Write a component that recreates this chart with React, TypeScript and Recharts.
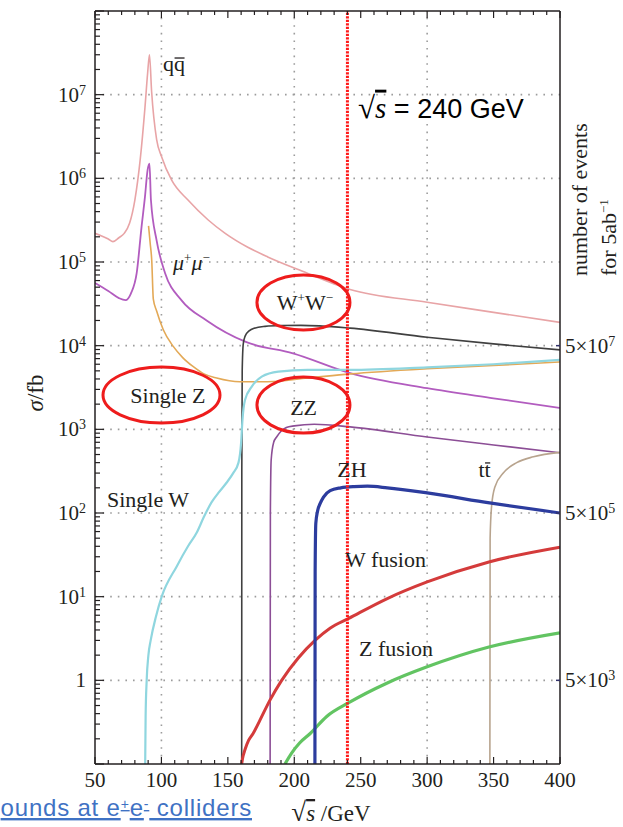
import React from 'react';
import { LineChart, Line, XAxis, YAxis, ReferenceLine, ReferenceDot } from 'recharts';

const SERIF = '"Liberation Serif", "Times New Roman", serif';
const SANS = '"Liberation Sans", Arial, sans-serif';
const INK = '#231f20';

// cross sections as [sqrt(s) in GeV, sigma in fb]
const qqbar = [
  [50, 2.2e5], [55, 2.05e5], [60, 1.88e5], [63.5, 1.75e5], [68, 1.95e5], [72, 2.2e5], [76, 2.9e5],
  [80, 5.5e5], [84, 1.66e6], [87.6, 7e6], [89.6, 1.8e7], [91, 3.0e7], [92.6, 1.1e7], [96.4, 2.9e6],
  [100.2, 1.8e6], [107.7, 9.5e5], [120, 5.5e5], [135, 3.2e5], [148, 2.2e5], [165, 1.5e5],
  [180, 1.15e5], [204, 8e4], [242, 4.7e4], [300, 3.3e4], [350, 2.5e4], [400, 1.9e4],
];
const mumu = [
  [50, 5.6e4], [60, 4.5e4], [68, 3.7e4], [73, 3.5e4], [77, 4.2e4], [81.4, 7.4e4], [85, 2.6e5],
  [87.6, 6e5], [89.6, 1.26e6], [91, 1.5e6], [92.1, 5.5e5], [96.4, 1.8e5], [102.7, 7.4e4],
  [115, 3.5e4], [134, 2.0e4], [164, 1.1e4], [199, 8.1e3], [242, 4.7e3], [300, 3.1e3],
  [350, 2.35e3], [400, 1.8e3],
];
const singleZ = [
  [90.3, 2.7e5], [91.5, 1.7e5], [92.7, 1.05e5], [93.9, 3.6e4], [96.4, 2.6e4], [101.4, 1.55e4],
  [108.9, 9.8e3], [116, 7.2e3], [124, 5.6e3], [132, 4.6e3], [141.6, 4.1e3], [159, 3.7e3],
  [180, 3.7e3], [210, 4.1e3], [242, 4.6e3], [300, 5.3e3], [350, 5.8e3], [400, 6.4e3],
];
const singleW = [
  [87.6, 0.05], [88.1, 0.37], [88.9, 1.0], [90.2, 2.0], [91.9, 3.0], [95.9, 5.8], [100.2, 10],
  [111.5, 23], [120, 40], [126.5, 58], [132, 90], [137.8, 135], [143, 175], [149, 230],
  [154, 300], [158, 400], [160, 700], [161, 1300], [162.9, 2240], [168, 3240], [175.5, 4270],
  [188, 4900], [210, 5130], [242, 5130], [300, 5500], [350, 6000], [400, 6760],
];
const wPair = [
  [160.4, 0.05], [160.5, 300], [160.8, 5000], [161.6, 1.05e4], [163, 1.3e4], [166, 1.5e4],
  [170, 1.62e4], [178, 1.7e4], [190, 1.74e4], [205, 1.75e4], [242, 1.62e4], [300, 1.26e4],
  [350, 1.05e4], [400, 8.9e3],
];
const zPair = [
  [181.8, 0.05], [182, 100], [182.6, 430], [184.5, 700], [186.7, 810], [190, 950], [194, 1050],
  [200, 1100], [215, 1150], [242, 1070], [300, 810], [350, 650], [400, 525],
];
const zh = [
  [215.5, 0.05], [215.7, 20], [216.2, 75], [217.5, 105], [219.5, 130], [222, 155], [227, 185],
  [235, 200], [245, 207], [255, 209], [270, 200], [300, 174], [347, 132], [400, 100],
];
const ttbar = [
  [347.2, 0.05], [347.4, 50], [348.5, 120], [351, 205], [357.3, 300], [367.4, 400], [380, 470],
  [400, 530],
];
const wFusion = [
  [160.4, 0.1], [161, 0.115], [163, 0.15], [165.5, 0.19], [168.9, 0.23], [174, 0.33],
  [181.7, 0.58], [190.5, 1.0], [203, 1.85], [215.6, 3.0], [226.9, 4.2], [241, 5.5], [270, 9.5],
  [300, 15], [346.5, 26], [400, 39],
];
const zFusion = [
  [193, 0.1], [198, 0.135], [204, 0.178], [211.8, 0.23], [224.4, 0.37], [241, 0.54], [270, 0.93],
  [300, 1.45], [346.5, 2.5], [400, 3.7],
];

const SERIES = [
  { key: 'qq', rows: qqbar, color: '#e8a4a6', width: 1.6 },
  { key: 'mumu', rows: mumu, color: '#b25cbf', width: 1.8 },
  { key: 'ww', rows: wPair, color: '#404040', width: 1.6 },
  { key: 'zz', rows: zPair, color: '#8c4e96', width: 1.6 },
  { key: 'singleZ', rows: singleZ, color: '#e3a957', width: 1.6 },
  { key: 'singleW', rows: singleW, color: '#8fd6df', width: 2.2 },
  { key: 'tt', rows: ttbar, color: '#b8a48e', width: 1.6 },
  { key: 'wfus', rows: wFusion, color: '#d43b3b', width: 3 },
  { key: 'zfus', rows: zFusion, color: '#62c462', width: 3.2 },
  { key: 'zh', rows: zh, color: '#2c3c9e', width: 3.2 },
];

const X_TICKS = Array.from({ length: 36 }, (_, i) => 50 + 10 * i);
const DECADES = [0.1, 1, 10, 100, 1e3, 1e4, 1e5, 1e6, 1e7];
const Y_TICKS = [
  ...DECADES.flatMap((d) => [1, 2, 3, 4, 5, 6, 7, 8, 9].map((m) => Number((d * m).toPrecision(3)))),
  1e8,
];
const GRID_X = [100, 200, 300];
const GRID_Y = [1, 10, 100, 1e3, 1e4, 1e5, 1e6, 1e7];
// right axis: events for 5 ab^-1 = sigma * 5000
const EVENT_TICKS = [1, 100, 1e4];
const EVENT_EXP = ['3', '5', '7'];
const CMS_ENERGY = 240;

// label anchors [GeV, fb]
const NOTES: Record<string, [number, number]> = {
  qq: [109.5, 2.2e7],
  mumu: [122.6, 9.2e4],
  ww: [208, 3.28e4],
  singleZ: [104.9, 2.57e3],
  zz: [207, 1.82e3],
  singleW: [89.9, 145],
  zh: [243.4, 331],
  tt: [343.2, 327],
  wfus: [268.7, 27.8],
  zfus: [276.6, 2.4],
  sqrt: [248, 6.8e6],
};
const RINGS: [number, number, number, number][] = [
  // GeV, fb, rx, ry
  [206.9, 3.28e4, 46.5, 27.5],
  [100.05, 2.57e3, 58.5, 28],
  [206.9, 1.95e3, 46.5, 28],
];

const isDecade = (v: number) => Math.abs(Math.log10(v) - Math.round(Math.log10(v))) < 1e-9;

const BottomTick = (p: any) => {
  const { x, y, payload } = p;
  const v = payload.value;
  const major = v % 50 === 0;
  return (
    <g>
      <line x1={x} x2={x} y1={y} y2={y - (major ? 7 : 4)} stroke={INK} strokeWidth={1.2} />
      {major && (
        <text x={x} y={y + 23} textAnchor="middle" fontFamily={SERIF} fontSize={21} fill={INK}>
          {v}
        </text>
      )}
    </g>
  );
};

const TopTick = (p: any) => {
  const { x, y, payload } = p;
  const major = payload.value % 50 === 0;
  return <line x1={x} x2={x} y1={y} y2={y + (major ? 7 : 4)} stroke={INK} strokeWidth={1.2} />;
};

const LeftTick = (p: any) => {
  const { x, y, payload } = p;
  const v = payload.value;
  const dec = isDecade(v);
  const exp = Math.round(Math.log10(v));
  const labelled = dec && exp >= 0 && exp <= 7;
  return (
    <g>
      <line x1={x} x2={x + (dec ? 9 : 5)} y1={y} y2={y} stroke={INK} strokeWidth={1.2} />
      {labelled && (
        <text x={x - 9} y={y + 7} textAnchor="end" fontFamily={SERIF} fontSize={21} fill={INK}>
          {exp === 0 ? (
            '1'
          ) : (
            <>
              10<tspan dy={-7} fontSize={14}>{exp}</tspan>
            </>
          )}
        </text>
      )}
    </g>
  );
};

const RightTick = (p: any) => {
  const { x, y, index } = p;
  return (
    <g>
      <line x1={x} x2={x - 4} y1={y} y2={y} stroke="#33336a" strokeWidth={1.5} />
      <text x={x + 5} y={y + 7} textAnchor="start" fontFamily={SERIF} fontSize={21} fill={INK}>
        5×10<tspan dy={-7} fontSize={14}>{EVENT_EXP[index] ?? ''}</tspan>
      </text>
    </g>
  );
};

// the grid is drawn by hand so only the decades and the 100 GeV steps get dotted lines
const GridLine = (p: any) => {
  const { x1, y1, x2, y2 } = p;
  return (
    <line
      x1={x1}
      y1={y1}
      x2={x2}
      y2={y2}
      stroke="#9c9c9c"
      strokeWidth={1.6}
      strokeDasharray="1.6 6"
    />
  );
};

// bar over the second of two glyphs of width w (antiparticle mark)
const Bar = ({ cx, y, w }: { cx: number; y: number; w: number }) => (
  <line x1={cx + 0.5} x2={cx + w - 0.5} y1={y} y2={y} stroke={INK} strokeWidth={1.3} />
);

const label = (key: string, cx: number, cy: number) => {
  const common = { fontFamily: SERIF, fontSize: 22, fill: INK, textAnchor: 'middle' as const };
  switch (key) {
    case 'qq':
      return (
        <g>
          <text x={cx} y={cy + 5} {...common}>qq</text>
          <Bar cx={cx} y={cy - 8} w={11} />
        </g>
      );
    case 'mumu':
      return (
        <text x={cx} y={cy + 5} {...common} fontStyle="italic">
          μ<tspan dy={-8} fontSize={13} fontStyle="normal">+</tspan>
          <tspan dy={8}>μ</tspan>
          <tspan dy={-8} fontSize={13} fontStyle="normal">−</tspan>
        </text>
      );
    case 'ww':
      return (
        <text x={cx} y={cy + 7.5} {...common}>
          W<tspan dy={-8} fontSize={13}>+</tspan>
          <tspan dy={8}>W</tspan>
          <tspan dy={-8} fontSize={13}>−</tspan>
        </text>
      );
    case 'tt':
      return (
        <g>
          <text x={cx} y={cy + 7.5} {...common}>tt</text>
          <Bar cx={cx} y={cy - 7} w={6.2} />
        </g>
      );
    case 'sqrt':
      return (
        <text x={cx} y={cy + 9} fontFamily={SANS} fontSize={27} fill="#000" textAnchor="start">
          <tspan fontFamily={SERIF} fontSize={31}>√</tspan>
          <tspan fontFamily={SERIF} fontSize={29} fontStyle="italic" textDecoration="overline">s</tspan> = 240 GeV
        </text>
      );
    default: {
      const text: Record<string, string> = {
        singleZ: 'Single Z',
        zz: 'ZZ',
        singleW: 'Single W',
        zh: 'ZH',
        wfus: 'W fusion',
        zfus: 'Z fusion',
      };
      return (
        <text x={cx} y={cy + 7.5} {...common}>
          {text[key]}
        </text>
      );
    }
  }
};

export default function App() {
  return (
    <div
      style={{
        position: 'absolute',
        left: 0,
        top: 0,
        width: 623,
        height: 827,
        overflow: 'hidden',
        background: '#fff',
      }}
    >
      <LineChart width={623} height={827} margin={{ top: 0, right: 0, bottom: 0, left: 0 }}>
        <XAxis
          xAxisId="b"
          dataKey="e"
          type="number"
          domain={[50, 400]}
          allowDataOverflow
          ticks={X_TICKS}
          interval={0}
          tickSize={0}
          tickMargin={0}
          tickLine={false}
          tick={<BottomTick />}
          height={63}
          axisLine={{ stroke: INK, strokeWidth: 1.5 }}
        />
        <XAxis
          xAxisId="t"
          orientation="top"
          dataKey="e"
          type="number"
          domain={[50, 400]}
          allowDataOverflow
          ticks={X_TICKS}
          interval={0}
          tickSize={0}
          tickMargin={0}
          tickLine={false}
          tick={<TopTick />}
          height={11}
          axisLine={{ stroke: INK, strokeWidth: 1.5 }}
        />
        <YAxis
          yAxisId="l"
          dataKey="v"
          type="number"
          scale="log"
          domain={[0.1, 1e8]}
          allowDataOverflow
          ticks={Y_TICKS}
          interval={0}
          tickSize={0}
          tickMargin={0}
          tickLine={false}
          tick={<LeftTick />}
          width={95}
          axisLine={{ stroke: INK, strokeWidth: 1.5 }}
        />
        <YAxis
          yAxisId="r"
          orientation="right"
          dataKey="v"
          type="number"
          scale="log"
          domain={[0.1, 1e8]}
          allowDataOverflow
          ticks={EVENT_TICKS}
          interval={0}
          tickSize={0}
          tickMargin={0}
          tickLine={false}
          tick={<RightTick />}
          width={63}
          axisLine={{ stroke: INK, strokeWidth: 1.5 }}
        />

        {GRID_X.map((g) => (
          <ReferenceLine key={`gx${g}`} x={g} xAxisId="b" yAxisId="l" shape={<GridLine />} />
        ))}
        {GRID_Y.map((g) => (
          <ReferenceLine key={`gy${g}`} y={g} xAxisId="b" yAxisId="l" shape={<GridLine />} />
        ))}

        {SERIES.map((s) => (
          <Line
            key={s.key}
            xAxisId="b"
            yAxisId="l"
            data={s.rows.map(([e, v]) => ({ e, v }))}
            dataKey="v"
            type="monotone"
            stroke={s.color}
            strokeWidth={s.width}
            dot={false}
            activeDot={false}
            isAnimationActive={false}
          />
        ))}

        <ReferenceLine
          x={CMS_ENERGY}
          xAxisId="b"
          yAxisId="l"
          stroke="#ff1a1a"
          strokeWidth={3}
          strokeDasharray="2.2 1.3"
        />

        {RINGS.map(([e, v, rx, ry], i) => (
          <ReferenceDot
            key={`ring${i}`}
            x={e}
            y={v}
            xAxisId="b"
            yAxisId="l"
            r={0}
            shape={(p: any) => (
              <ellipse cx={p.cx} cy={p.cy} rx={rx} ry={ry} fill="none" stroke="#ee1c1c" strokeWidth={3} />
            )}
          />
        ))}
        {Object.entries(NOTES).map(([k, [e, v]]) => (
          <ReferenceDot
            key={k}
            x={e}
            y={v}
            xAxisId="b"
            yAxisId="l"
            r={0}
            shape={(p: any) => label(k, p.cx, p.cy)}
          />
        ))}
      </LineChart>

      <svg width={623} height={827} style={{ position: 'absolute', left: 0, top: 0, pointerEvents: 'none' }}>
        <text
          transform="translate(43 393) rotate(-90)"
          textAnchor="middle"
          fontFamily={SERIF}
          fontSize={23}
          fill={INK}
        >
          <tspan fontStyle="italic">σ</tspan>/fb
        </text>
        <text
          transform="translate(587 276) rotate(-90)"
          textAnchor="start"
          fontFamily={SERIF}
          fontSize={22}
          fill={INK}
        >
          number of events
        </text>
        <text
          transform="translate(616 276) rotate(-90)"
          textAnchor="start"
          fontFamily={SERIF}
          fontSize={22}
          fill={INK}
        >
          for 5ab<tspan dy={-8} fontSize={13}>−1</tspan>
        </text>
        <text x={331} y={821} textAnchor="middle" fontFamily={SERIF} fontSize={23} fill={INK}>
          <tspan fontSize={27}>√</tspan>
          <tspan fontStyle="italic" textDecoration="overline">s</tspan> /GeV
        </text>
        <text
          x={252}
          y={816}
          textAnchor="end"
          fontFamily={SANS}
          fontSize={24}
          letterSpacing={0.8}
          fill="#3f72c4"
          textDecoration="underline"
        >
          ounds at e<tspan dy={-7} fontSize={14}>+</tspan>
          <tspan dy={7}>e</tspan>
          <tspan dy={-7} fontSize={14}>-</tspan>
          <tspan dy={7}> colliders</tspan>
        </text>
      </svg>
    </div>
  );
}
